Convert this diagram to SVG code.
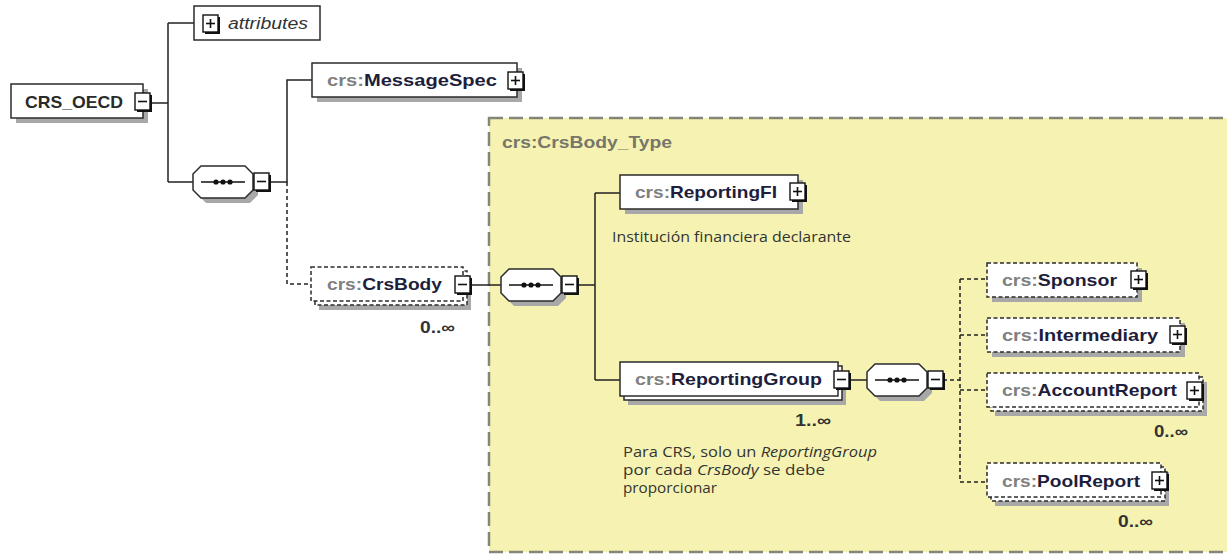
<svg xmlns="http://www.w3.org/2000/svg" xmlns:xlink="http://www.w3.org/1999/xlink" width="1227" height="554" viewBox="0 0 1227 554">
<style>
.bg{fill:#ffffff}
.type{fill:#f6f3b2;stroke:#85857a;stroke-width:2.5;stroke-dasharray:14 6}
.box{fill:#ffffff;stroke:#2b2b2b;stroke-width:1.5}
.dbox{fill:#ffffff;stroke:#2b2b2b;stroke-width:1.5;stroke-dasharray:4 2.5}
.shadow{fill:#a8a8a8}
.conn{stroke:#222222;stroke-width:1.5;fill:none}
.dash{stroke-dasharray:4 3}
.lbl{font-family:"Liberation Sans",Arial,sans-serif;font-weight:bold;font-size:17px;fill:#1e1e3c}
.pre{fill:#808080}
.mult{font-family:"Liberation Sans",Arial,sans-serif;font-weight:bold;font-size:16px;fill:#333333}
.note{font-family:"Open Sans","Noto Sans",sans-serif;font-size:14px;fill:#333333}
.tname{font-family:"Liberation Sans",Arial,sans-serif;font-weight:bold;font-size:17px;fill:#76766a}
</style>
<defs>
<g id="minus">
<rect x="2" y="2" width="15" height="17" fill="#111"/>
<rect x="0" y="0" width="15" height="17" fill="#fff" stroke="#111" stroke-width="1.4"/>
<line x1="3" y1="8.5" x2="12" y2="8.5" stroke="#111" stroke-width="1.6"/>
</g>
<g id="plus">
<rect x="2" y="2" width="15" height="17" fill="#111"/>
<rect x="0" y="0" width="15" height="17" fill="#fff" stroke="#111" stroke-width="1.4"/>
<line x1="3" y1="8.5" x2="12" y2="8.5" stroke="#111" stroke-width="1.6"/>
<line x1="7.5" y1="4" x2="7.5" y2="13" stroke="#111" stroke-width="1.6"/>
</g>
<g id="seq">
<polygon points="13,5 57,5 65,13 65,29 57,37 13,37 5,29 5,13" fill="#a8a8a8"/>
<polygon points="8,0 52,0 60,8 60,24 52,32 8,32 0,24 0,8" fill="#fff" stroke="#2b2b2b" stroke-width="1.5"/>
<line x1="8" y1="16" x2="52" y2="16" stroke="#111" stroke-width="1.5"/>
<circle cx="23" cy="16" r="2.6" fill="#111"/>
<circle cx="30" cy="16" r="2.6" fill="#111"/>
<circle cx="37" cy="16" r="2.6" fill="#111"/>
</g>
</defs>
<rect class="bg" x="0" y="0" width="1227" height="554"/>
<rect id="crsbody-type" class="type" x="489" y="118" width="760" height="434"/>
<text class="tname" x="502" y="148" textLength="170" lengthAdjust="spacingAndGlyphs">crs:CrsBody_Type</text>

<g id="connectors">
<path class="conn" d="M152,103 H168 M168,23 V182 M168,23 H194 M168,182 H193"/>
<path class="conn" d="M268,182 H287 V80 H312"/>
<path class="conn dash" d="M287,182 V284 H312"/>
<path class="conn" d="M470,285 H501"/>
<path class="conn" d="M576,285 H595 M595,193 V380 M595,193 H620 M595,380 H620"/>
<path class="conn" d="M850,380 H867"/>
<path class="conn dash" d="M943,380 H960 M960,279 V482 M960,279 H987 M960,335 H987 M960,390 H987 M960,482 H987"/>
</g>

<g id="crs_oecd">
<rect class="shadow" x="16" y="89" width="132" height="34"/>
<rect class="box" x="11" y="84" width="132" height="34"/>
<text class="lbl" x="25" y="108" textLength="98" lengthAdjust="spacingAndGlyphs" style="fill:#2a2a2a">CRS_OECD</text>
<use xlink:href="#minus" x="135" y="93"/>
</g>

<g id="attributes">
<rect class="box" x="194" y="6" width="126" height="34"/>
<use xlink:href="#plus" x="203" y="15"/>
<text x="228" y="29" font-family="Liberation Sans, Arial, sans-serif" font-style="italic" font-size="16" fill="#333" textLength="80" lengthAdjust="spacingAndGlyphs">attributes</text>
</g>

<g id="sequence1">
<use xlink:href="#seq" x="193" y="166"/>
<use xlink:href="#minus" x="254" y="173"/>
</g>

<g id="messagespec">
<rect class="shadow" x="317" y="68" width="205" height="34"/>
<rect class="box" x="312" y="63" width="205" height="34"/>
<text class="lbl" x="327" y="86" textLength="170" lengthAdjust="spacingAndGlyphs"><tspan class="pre">crs:</tspan>MessageSpec</text>
<use xlink:href="#plus" x="508" y="72"/>
</g>

<g id="crsbody">
<rect class="shadow" x="319" y="276" width="152" height="34"/>
<rect class="dbox" x="315" y="271" width="152" height="34"/>
<rect class="dbox" x="311" y="267" width="152" height="34"/>
<text class="lbl" x="327" y="290" textLength="115" lengthAdjust="spacingAndGlyphs"><tspan class="pre">crs:</tspan>CrsBody</text>
<use xlink:href="#minus" x="455" y="276"/>
<text class="mult" x="420" y="333" textLength="35" lengthAdjust="spacingAndGlyphs">0..∞</text>
</g>

<g id="sequence2">
<use xlink:href="#seq" x="501" y="269"/>
<use xlink:href="#minus" x="562" y="276"/>
</g>

<g id="reportingfi">
<rect class="shadow" x="625" y="180" width="178" height="34"/>
<rect class="box" x="620" y="175" width="178" height="34"/>
<text class="lbl" x="635" y="198" textLength="142" lengthAdjust="spacingAndGlyphs"><tspan class="pre">crs:</tspan>ReportingFI</text>
<use xlink:href="#plus" x="790" y="183"/>
<text class="note" x="612" y="242" textLength="239" lengthAdjust="spacingAndGlyphs">Institución financiera declarante</text>
</g>

<g id="reportinggroup">
<rect class="shadow" x="628" y="371" width="218" height="34"/>
<rect class="box" x="624" y="366" width="218" height="34"/>
<rect class="box" x="620" y="362" width="218" height="34"/>
<text class="lbl" x="635" y="385" textLength="187" lengthAdjust="spacingAndGlyphs"><tspan class="pre">crs:</tspan>ReportingGroup</text>
<use xlink:href="#minus" x="834" y="371"/>
<text class="mult" x="795" y="426" textLength="36" lengthAdjust="spacingAndGlyphs">1..∞</text>
<text class="note" x="623" y="457" textLength="254" lengthAdjust="spacingAndGlyphs">Para CRS, solo un <tspan font-style="italic">ReportingGroup</tspan></text>
<text class="note" x="623" y="475" textLength="202" lengthAdjust="spacingAndGlyphs">por cada <tspan font-style="italic">CrsBody</tspan> se debe</text>
<text class="note" x="623" y="493" textLength="94" lengthAdjust="spacingAndGlyphs">proporcionar</text>
</g>

<g id="sequence3">
<use xlink:href="#seq" x="867" y="364"/>
<use xlink:href="#minus" x="928" y="371"/>
</g>

<g id="sponsor">
<rect class="shadow" x="992" y="268" width="150" height="34"/>
<rect class="dbox" x="987" y="263" width="150" height="34"/>
<text class="lbl" x="1002" y="286" textLength="115" lengthAdjust="spacingAndGlyphs"><tspan class="pre">crs:</tspan>Sponsor</text>
<use xlink:href="#plus" x="1131" y="271"/>
</g>

<g id="intermediary">
<rect class="shadow" x="992" y="323" width="193" height="34"/>
<rect class="dbox" x="987" y="318" width="193" height="34"/>
<text class="lbl" x="1002" y="341" textLength="156" lengthAdjust="spacingAndGlyphs"><tspan class="pre">crs:</tspan>Intermediary</text>
<use xlink:href="#plus" x="1170" y="326"/>
</g>

<g id="accountreport">
<rect class="shadow" x="995" y="382" width="212" height="34"/>
<rect class="dbox" x="991" y="377" width="212" height="34"/>
<rect class="dbox" x="987" y="373" width="212" height="34"/>
<text class="lbl" x="1002" y="396" textLength="175" lengthAdjust="spacingAndGlyphs"><tspan class="pre">crs:</tspan>AccountReport</text>
<use xlink:href="#plus" x="1187" y="382"/>
<text class="mult" x="1154" y="437" textLength="34" lengthAdjust="spacingAndGlyphs">0..∞</text>
</g>

<g id="poolreport">
<rect class="shadow" x="995" y="472" width="174" height="34"/>
<rect class="dbox" x="991" y="467" width="174" height="34"/>
<rect class="dbox" x="987" y="463" width="174" height="34"/>
<text class="lbl" x="1002" y="487" textLength="138" lengthAdjust="spacingAndGlyphs"><tspan class="pre">crs:</tspan>PoolReport</text>
<use xlink:href="#plus" x="1152" y="472"/>
<text class="mult" x="1118" y="527" textLength="35" lengthAdjust="spacingAndGlyphs">0..∞</text>
</g>
</svg>
